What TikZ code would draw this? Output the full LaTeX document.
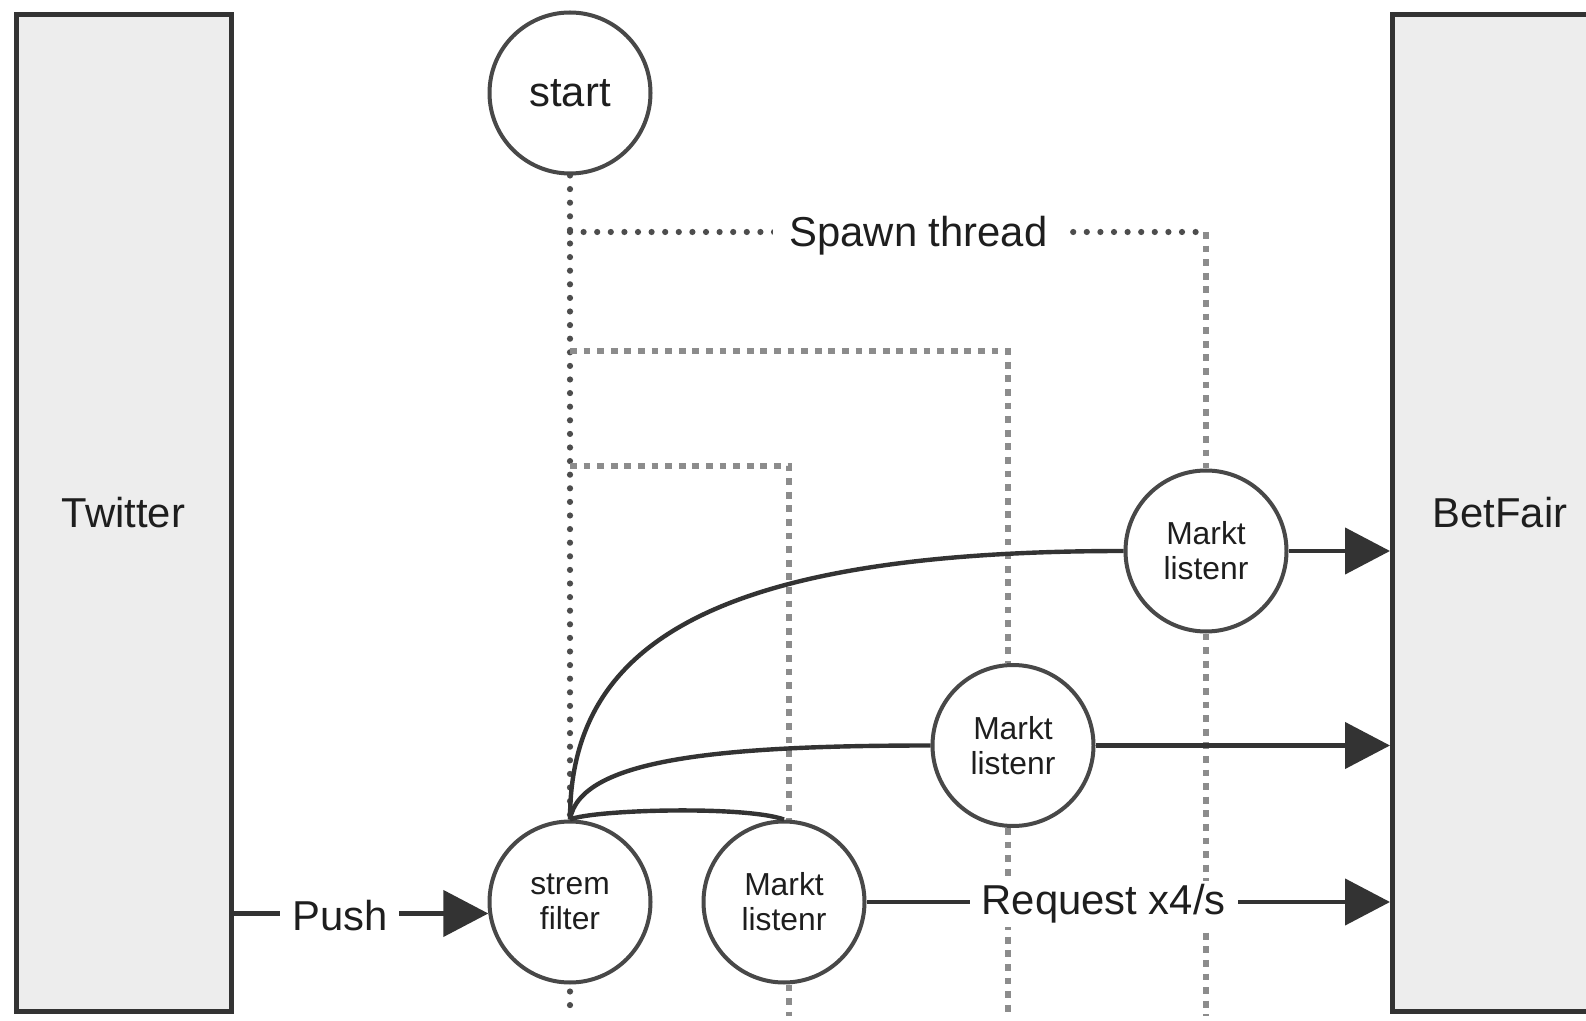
\documentclass[tikz,border=0pt]{standalone}
\usepackage{fontspec}
\setmainfont{Liberation Sans}
\usetikzlibrary{arrows.meta,backgrounds,calc}
\definecolor{boxfill}{HTML}{EDEDED}
\definecolor{edge}{HTML}{333333}
\definecolor{circ}{HTML}{484848}
\definecolor{dotdark}{HTML}{4D4D4D}
\definecolor{dotgray}{HTML}{8C8C8C}
\definecolor{txt}{HTML}{1E1E1E}
\newcommand\dgbig{\fontsize{20.9}{25}\selectfont}
\newcommand\dgsmall{\fontsize{15.9}{17.5}\selectfont}
\begin{document}
\begin{tikzpicture}[x=0.5pt,y=-0.5pt,
  sysbox/.style={draw=edge,fill=boxfill,line width=2.5pt,minimum width=107.5pt,minimum height=498pt,inner sep=0pt,text=txt,font=\dgbig},
  proc/.style={circle,draw=circ,fill=white,line width=2pt,minimum size=80.5pt,inner sep=0pt,align=center,text=txt,font=\dgsmall},
  link/.style={draw=edge,line width=2.2pt},
  arr/.style={link,-{Triangle[length=22.5pt,width=23pt]}},
  lab/.style={fill=white,text=txt,font=\dgbig,inner xsep=6pt,inner ysep=2pt},
  ddot/.style={draw=dotdark,line width=3.1pt,line cap=round,dash pattern=on 0pt off 6.8pt},
  gdot/.style={draw=dotgray,line width=3.4pt,dash pattern=on 3.4pt off 3.4pt},
]
\useasboundingbox (0,0) rectangle (1586,1021);
\clip (0,0) rectangle (1586,1021);

\node[sysbox] (tw) at (123.5,513) {Twitter};
\node[sysbox] (bf) at (1500,513) {BetFair};
\node[proc,font=\dgbig] (st) at (570,93) {start};
\node[proc] (sf) at (570,902) {strem\\filter};
\node[proc] (m1) at (784,902) {Markt\\listenr};
\node[proc] (m2) at (1013,745.5) {Markt\\listenr};
\node[proc] (m3) at (1206,551) {Markt\\listenr};

\coordinate (c1) at (789,466);
\coordinate (c2) at (1008,351);
\coordinate (c3) at (1206,232);
\coordinate (bot) at (0,1016);

\begin{pgfonlayer}{background}
\fill[white] (0,0) rectangle (1586,1021);
\draw[ddot] (st.south) -- (st.south |- bot);
\draw[gdot] (c3) -- (m3.north);
\draw[gdot] (m3.south) -- (m3.south |- bot);
\draw[gdot] (st.south |- c2) -- (c2) -- (c2 |- m2.north);
\draw[gdot] (c2 |- m2.south) -- (c2 |- bot);
\draw[gdot] (st.south |- c1) -- (c1) -- (c1 |- m1.north);
\draw[gdot] (c1 |- m1.south) -- (c1 |- bot);
\draw[ddot] (st.south |- c3) -- node[lab,inner xsep=8.5pt,pos=0.548,yshift=-2pt] (sp) {Spawn thread} (c3);
\end{pgfonlayer}

\draw[link] (sf.north) .. controls ($(sf.north)+(0,-170)$) and ($(m3.west)+(-420,0)$) .. (m3.west);
\draw[link] (sf.north) .. controls ($(sf.north)+(10,-60)$) and ($(m2.west)+(-214,0)$) .. (m2.west);
\draw[link] (sf.north) .. controls ($(sf.north)+(24,-10)$) and ($(m1.north)+(-39,-14)$) .. (m1.north);

\draw[arr] (tw.east |- sf.188) -- node[lab,pos=0.417,yshift=-0.8pt] (push) {Push} (sf.188);
\draw[arr] (m1.east) -- node[lab,pos=0.453,yshift=-1pt] (req) {Request x4/s} (m1.east -| bf.west);
\draw[arr] (m2.east) -- (m2.east -| bf.west);
\draw[arr] (m3.east) -- (m3.east -| bf.west);
\end{tikzpicture}
\end{document}
